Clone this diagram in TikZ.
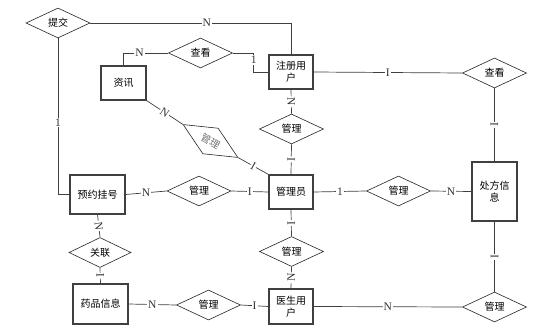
\documentclass[tikz,border=0pt]{standalone}
\usepackage{fontspec}
\setmainfont{Liberation Serif}
\newfontfamily\cjk{Noto Sans CJK SC}
\usetikzlibrary{shapes.geometric}
\begin{document}
\begin{tikzpicture}[x=1pt,y=-1pt,
 ent/.style={draw=black!75, line width=1.1pt, rectangle, minimum width=44pt, minimum height=34pt, inner sep=0pt, font=\cjk\fontsize{10}{12}\selectfont, align=center, fill=white},
 rel/.style={draw=black!85, line width=0.6pt, diamond, minimum width=64pt, minimum height=30pt, inner sep=0pt, font=\cjk\fontsize{10}{12}\selectfont, fill=white},
 conn/.style={draw=black!75, line width=0.7pt},
 lbl/.style={fill=white, inner sep=1pt, font=\fontsize{11.5}{12}\selectfont, text=black!80},
]
\useasboundingbox[fill=white] (0,0) rectangle (556,334);
% entities
\node[ent, minimum width=45pt] (zx) at (123.5,83) {资讯};
\node[ent] (zc) at (291,72) {注册用\\户};
\node[ent, minimum width=55pt, minimum height=39pt] (yy) at (97.5,194.5) {预约挂号};
\node[ent] (gly) at (291,192) {管理员};
\node[ent, minimum width=45pt, minimum height=59pt] (cf) at (494.5,191.5) {处方信\\息};
\node[ent, minimum width=55pt, minimum height=40pt] (yp) at (100.5,304) {药品信息};
\node[ent, minimum height=35pt] (ys) at (291,306.5) {医生用\\户};
% relationships
\node[rel] (tj) at (58,23) {提交};
\node[rel] (ck1) at (200.5,53) {查看};
\node[rel] (ck2) at (494.5,73) {查看};
\node[rel, rotate=-31, text=black!55] (gr) at (210.5,141) {管理};
\node[rel] (g1) at (291.5,129) {管理};
\node[rel] (g2) at (199,191) {管理};
\node[rel] (g3) at (398.5,191) {管理};
\node[rel] (g4) at (291.5,251.5) {管理};
\node[rel, minimum width=62pt] (gl) at (100,252.5) {关联};
\node[rel] (g5) at (208.5,305) {管理};
\node[rel] (g6) at (494.5,307) {管理};
% connectors
\draw[conn] (tj.east) -| node[lbl,pos=0.29]{N} (zc.north);
\draw[conn] (tj.south) |- node[lbl,pos=0.27]{1} (yy.west);
\draw[conn] (ck1.west) -| node[lbl,pos=0.32]{N} (zx.north);
\draw[conn] (ck1.east) -- ++(21,0) |- node[lbl,pos=0.18]{1} (zc.west);
\draw[conn] (zc.east) -- node[lbl]{I} (ck2.west);
\draw[conn] (ck2.south) -- node[lbl,sloped]{I} (cf.north);
\draw[conn] (zc.south) -- node[lbl,sloped]{N} (g1.north);
\draw[conn] (g1.south) -- node[lbl,sloped]{I} (gly.north);
\draw[conn] (zx.south east) -- node[lbl,sloped]{N} (gr.west);
\draw[conn] (gr.east) -- node[lbl,sloped]{I} (gly.north west);
\draw[conn] (yy.east) -- node[lbl]{N} (g2.west);
\draw[conn] (g2.east) -- node[lbl]{I} (gly.west);
\draw[conn] (gly.east) -- node[lbl]{1} (g3.west);
\draw[conn] (g3.east) -- node[lbl]{N} (cf.west);
\draw[conn] (gly.south) -- node[lbl,sloped]{I} (g4.north);
\draw[conn] (g4.south) -- node[lbl,sloped]{N} (ys.north);
\draw[conn] (yy.south) -- node[lbl,sloped]{N} (gl.north);
\draw[conn] (gl.south) -- node[lbl,sloped]{I} (yp.north);
\draw[conn] (yp.east) -- node[lbl]{N} (g5.west);
\draw[conn] (g5.east) -- node[lbl]{I} (ys.west);
\draw[conn] (ys.east) -- node[lbl]{N} (g6.west);
\draw[conn] (g6.north) -- node[lbl,sloped]{I} (cf.south);
\end{tikzpicture}
\end{document}
